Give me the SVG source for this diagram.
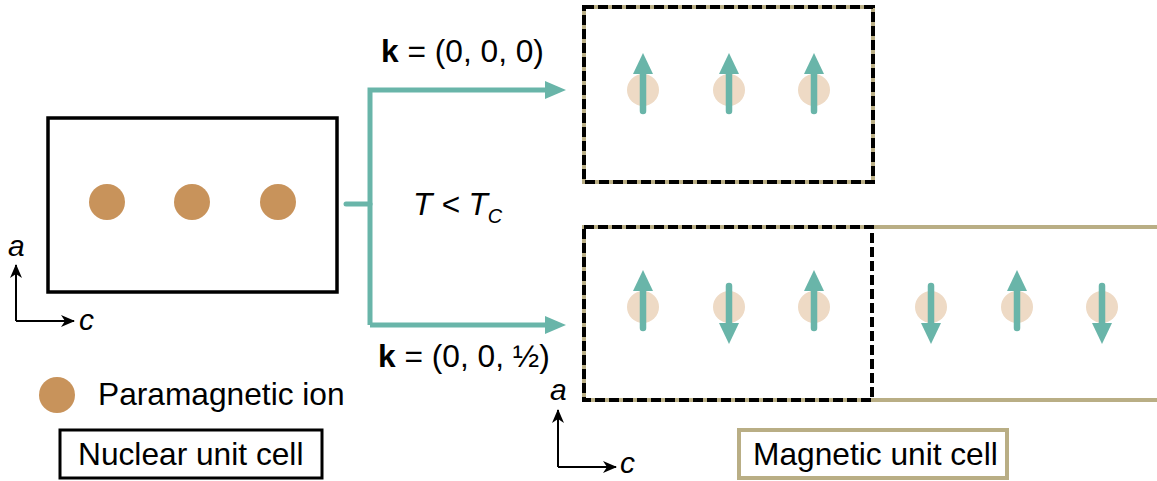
<svg xmlns="http://www.w3.org/2000/svg" width="1157" height="481" viewBox="0 0 1157 481">
<style>
text{font-family:"Liberation Sans",Arial,sans-serif;fill:#000}
.lbl{font-size:31.7px}
.ax{font-size:30px;font-style:italic}
.ion{fill:#C8935B}
.ion2{fill:#EEDAC5}
.teal{stroke:#69B5A9;stroke-width:5;fill:none}
.tealf{fill:#69B5A9}
.axl{stroke:#000;stroke-width:2;fill:none}
.tan{stroke:#B9AE85;stroke-width:4;fill:none}
.dash{stroke:#000;stroke-width:4;fill:none;stroke-dasharray:10 4}
.spin{stroke:#69B5A9;stroke-width:6.5;stroke-linecap:round}
</style>
<defs>
<marker id="ah" viewBox="0 0 14 12" refX="13" refY="6" markerWidth="14" markerHeight="12" markerUnits="userSpaceOnUse" orient="auto">
<path d="M0,0 L14,6 L0,12 L4,6 Z" fill="#000"/>
</marker>
<g id="up">
<line class="spin" x1="0" y1="21" x2="0" y2="-18"/>
<polygon class="tealf" points="0,-37 -10,-16 10,-16"/>
</g>
<g id="down">
<line class="spin" x1="0" y1="-21" x2="0" y2="18"/>
<polygon class="tealf" points="0,37 -10,16 10,16"/>
</g>
</defs>
<rect width="1157" height="481" fill="#fff"/>

<g id="nuclear-cell">
<rect x="48" y="118" width="289" height="174" fill="none" stroke="#000" stroke-width="3.5"/>
<circle class="ion" cx="107" cy="202" r="18"/>
<circle class="ion" cx="192" cy="202" r="18"/>
<circle class="ion" cx="278" cy="202" r="18"/>
</g>

<g id="axes-left">
<path class="axl" d="M16,321 V265" marker-end="url(#ah)"/>
<path class="axl" d="M16,321 H74" marker-end="url(#ah)"/>
<text class="ax" x="8" y="256">a</text>
<text class="ax" x="79" y="330">c</text>
</g>

<g id="connectors">
<path class="teal" d="M346,204 H370" stroke-linecap="round"/>
<path class="teal" d="M370,325 V90 H548"/>
<path class="teal" d="M370,325 H548"/>
<polygon class="tealf" points="566,90 545,81 545,99"/>
<polygon class="tealf" points="566,325 545,316 545,334"/>
</g>

<g id="labels">
<text class="lbl" x="381" y="62"><tspan font-weight="bold">k</tspan> = (0, 0, 0)</text>
<text class="lbl" x="378" y="367"><tspan font-weight="bold">k</tspan> = (0, 0, ½)</text>
<text class="lbl" x="413" y="215" font-style="italic">T &lt; T<tspan font-size="20" dy="8">C</tspan></text>
</g>

<g id="magnetic-cell-k0">
<rect class="tan" x="584" y="7" width="289" height="175"/>
<rect class="dash" x="584" y="7" width="289" height="175"/>
<circle class="ion2" cx="643" cy="90" r="16"/>
<circle class="ion2" cx="729" cy="90" r="16"/>
<circle class="ion2" cx="814" cy="90" r="16"/>
<use href="#up" x="643" y="90"/>
<use href="#up" x="729" y="90"/>
<use href="#up" x="814" y="90"/>
</g>

<g id="magnetic-cell-khalf">
<rect class="tan" x="584" y="227" width="700" height="173"/>
<rect class="dash" x="584" y="227" width="288" height="173"/>
<circle class="ion2" cx="643" cy="307" r="16"/>
<circle class="ion2" cx="729" cy="307" r="16"/>
<circle class="ion2" cx="814" cy="307" r="16"/>
<circle class="ion2" cx="931" cy="307" r="16"/>
<circle class="ion2" cx="1017" cy="307" r="16"/>
<circle class="ion2" cx="1102" cy="307" r="16"/>
<use href="#up" x="643" y="307"/>
<use href="#down" x="729" y="307"/>
<use href="#up" x="814" y="307"/>
<use href="#down" x="931" y="307"/>
<use href="#up" x="1017" y="307"/>
<use href="#down" x="1102" y="307"/>
</g>

<g id="axes-right">
<path class="axl" d="M558,467 V410" marker-end="url(#ah)"/>
<path class="axl" d="M558,467 H616" marker-end="url(#ah)"/>
<text class="ax" x="550" y="400">a</text>
<text class="ax" x="620" y="473">c</text>
</g>

<g id="legend-ion">
<circle class="ion" cx="57" cy="395" r="18"/>
<text class="lbl" x="98" y="405">Paramagnetic ion</text>
</g>

<g id="legend-nuclear">
<rect x="60" y="430" width="262" height="48" fill="none" stroke="#000" stroke-width="3"/>
<text class="lbl" x="78" y="465">Nuclear unit cell</text>
</g>

<g id="legend-magnetic">
<rect x="739" y="430" width="268" height="48" fill="none" stroke="#B9AE85" stroke-width="4"/>
<text class="lbl" x="753" y="465">Magnetic unit cell</text>
</g>
</svg>
